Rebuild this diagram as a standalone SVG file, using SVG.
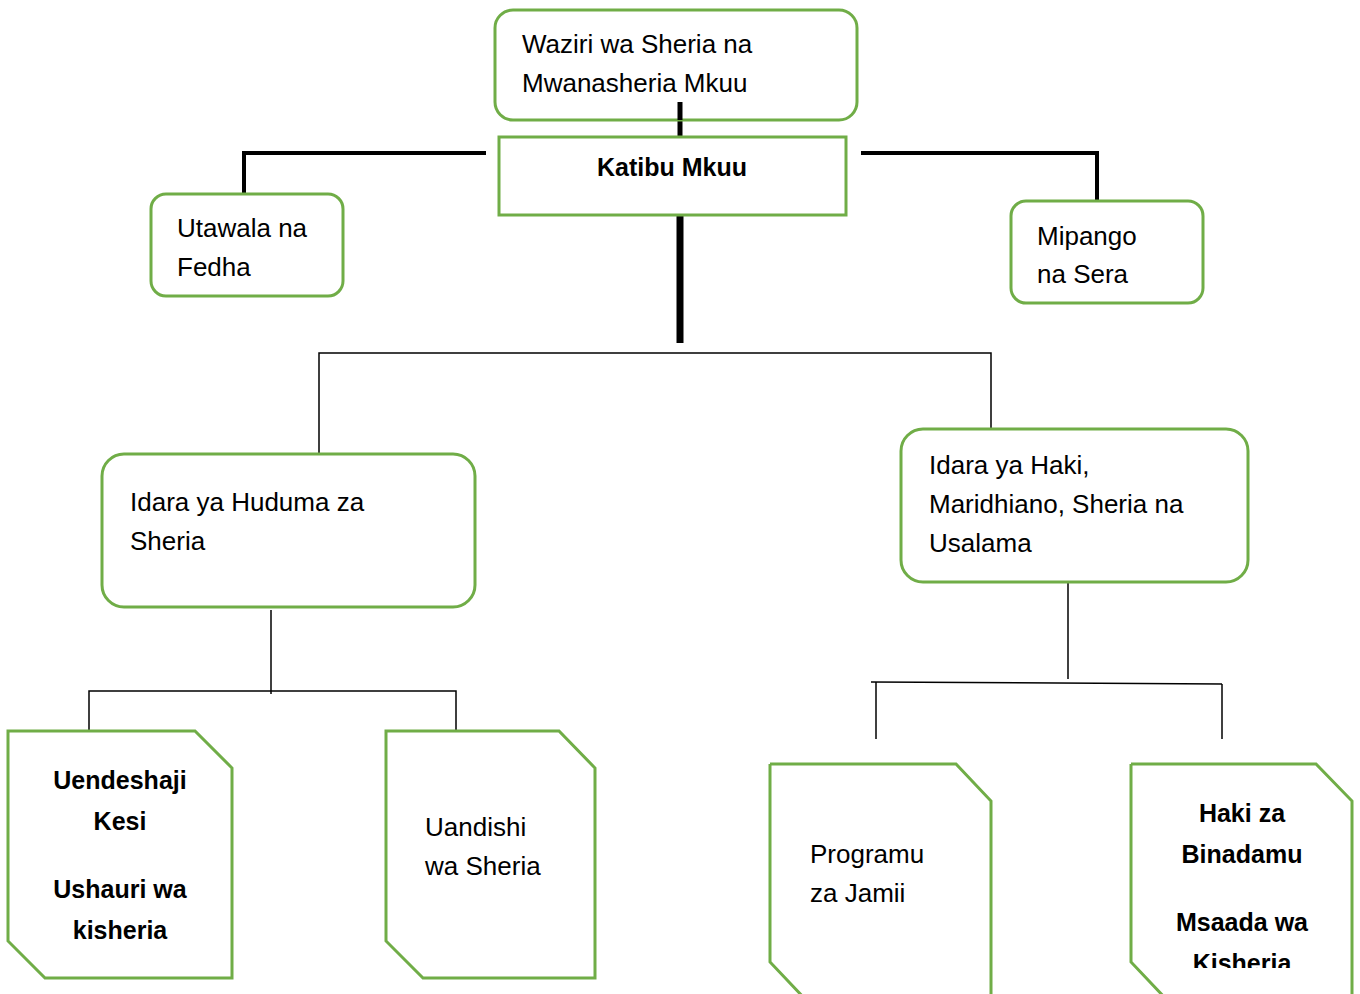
<svg xmlns="http://www.w3.org/2000/svg" width="1360" height="994" viewBox="0 0 1360 994">
<style>
.box{fill:#fff;stroke:#70AD47;stroke-width:3}
.t{font-family:"Liberation Sans",Arial,sans-serif;font-size:26px;fill:#000}
.b{font-family:"Liberation Sans",Arial,sans-serif;font-size:25px;font-weight:bold;fill:#000;text-anchor:middle}
.thin{stroke:#000;stroke-width:1.5;fill:none}
.mid{stroke:#000;stroke-width:4;fill:none}
</style>
<defs>
<clipPath id="clip4"><rect x="1131" y="764" width="230" height="204"/></clipPath>
</defs>
<rect width="1360" height="994" fill="#fff"/>
<g id="connectors">
<line x1="680" y1="100" x2="680" y2="138" stroke="#000" stroke-width="5"/>
<path class="mid" d="M486 153 H244 V201"/>
<path class="mid" d="M861 153 H1097 V203"/>
<line x1="680" y1="215" x2="680" y2="343" stroke="#000" stroke-width="7"/>
<path class="thin" d="M319 460 V353 H991 V435"/>
<line class="thin" x1="271" y1="610" x2="271" y2="694"/>
<path class="thin" d="M89 731 V691 H456 V731"/>
<line class="thin" x1="1068" y1="580" x2="1068" y2="679"/>
<line class="thin" x1="871" y1="682" x2="1222" y2="684"/>
<line class="thin" x1="876" y1="682" x2="876" y2="739"/>
<line class="thin" x1="1222" y1="684" x2="1222" y2="739"/>
</g>
<g id="waziri">
<rect class="box" x="495" y="10" width="362" height="110" rx="18"/>
<text class="t" x="522" y="53">Waziri wa Sheria na</text>
<text class="t" x="522" y="92">Mwanasheria Mkuu</text>
</g>
<line x1="680" y1="102" x2="680" y2="120" stroke="#000" stroke-width="5"/>
<g id="katibu">
<rect class="box" x="499" y="137" width="347" height="78"/>
<text class="b" x="672" y="176">Katibu Mkuu</text>
</g>
<g id="utawala">
<rect class="box" x="151" y="194" width="192" height="102" rx="15"/>
<text class="t" x="177" y="237">Utawala na</text>
<text class="t" x="177" y="276">Fedha</text>
</g>
<g id="mipango">
<rect class="box" x="1011" y="201" width="192" height="102" rx="15"/>
<text class="t" x="1037" y="245">Mipango</text>
<text class="t" x="1037" y="283">na Sera</text>
</g>
<g id="huduma">
<rect class="box" x="102" y="454" width="373" height="153" rx="22"/>
<text class="t" x="130" y="511">Idara ya Huduma za</text>
<text class="t" x="130" y="550">Sheria</text>
</g>
<g id="haki">
<rect class="box" x="901" y="429" width="347" height="153" rx="22"/>
<text class="t" x="929" y="474">Idara ya Haki,</text>
<text class="t" x="929" y="513">Maridhiano, Sheria na</text>
<text class="t" x="929" y="552">Usalama</text>
</g>
<g id="uendeshaji">
<path class="box" d="M8 731 H195 L232 768 V978 H45 L8 941 Z"/>
<text class="b" x="120" y="789">Uendeshaji</text>
<text class="b" x="120" y="830">Kesi</text>
<text class="b" x="120" y="898">Ushauri wa</text>
<text class="b" x="120" y="939">kisheria</text>
</g>
<g id="uandishi">
<path class="box" d="M386 731 H559 L595 768 V978 H423 L386 941 Z"/>
<text class="t" x="425" y="836">Uandishi</text>
<text class="t" x="425" y="875">wa Sheria</text>
</g>
<g id="programu">
<path class="box" d="M770 764 H956 L991 801 V1000 M806 1000 L770 962 V764"/>
<text class="t" x="810" y="863">Programu</text>
<text class="t" x="810" y="902">za Jamii</text>
</g>
<g id="binadamu">
<path class="box" d="M1131 764 H1316 L1352 801 V1000 M1167 1000 L1131 962 V764"/>
<text class="b" x="1242" y="822">Haki za</text>
<text class="b" x="1242" y="863">Binadamu</text>
<text class="b" x="1242" y="931">Msaada wa</text>
<text class="b" x="1242" y="972" clip-path="url(#clip4)">Kisheria</text>
</g>
</svg>
